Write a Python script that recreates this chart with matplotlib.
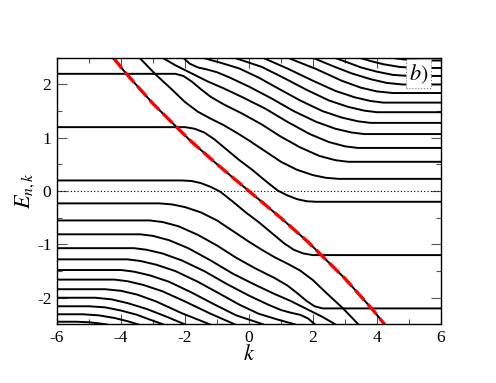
import matplotlib
matplotlib.use("Agg")
import matplotlib.pyplot as plt
from matplotlib.ticker import MultipleLocator

plt.rcParams['font.family'] = 'serif'
plt.rcParams['font.serif'] = ['Liberation Serif', 'DejaVu Serif']
plt.rcParams['mathtext.fontset'] = 'stix'
plt.rcParams['axes.unicode_minus'] = False

# red dashed guide E(k)
red_k = [-4.24, -3.875, -3.0, -2.26, -1.84, -1.0, 0.0, 1.0, 1.84, 2.26, 3.0, 3.875, 4.24]
red_E = [2.5, 2.23, 1.64, 1.2, 0.95, 0.505, 0.0, -0.505, -0.95, -1.2, -1.64, -2.23, -2.5]

# lower half levels (k, E); the upper half is the mirror (k, E) -> (-k, -E)
lvl_A_k = [-6, -2.1, -1.8, -1.5, -1.2, -0.9, -0.5, -0.1, 0.3, 0.8, 1.1, 1.4, 1.7, 2.0, 6]
lvl_A_E = [0.2, 0.2, 0.19, 0.15, 0.08, -0.01, -0.2, -0.4, -0.58, -0.83, -0.98, -1.1, -1.17, -1.2, -1.2]

lvl_1_k = [-6, -2.8, -2.4, -2.0, -1.5, -1.0, -0.5, 0.0, 0.4, 0.8, 1.2, 1.6, 2.0, 2.4, 2.94, 3.42]
lvl_1_E = [-0.23, -0.23, -0.25, -0.3, -0.4, -0.55, -0.75, -0.95, -1.1, -1.24, -1.36, -1.49, -1.67, -1.9, -2.2, -2.5]

lvl_2_k = [-6, -3.1, -2.7, -2.2, -1.6, -1.0, -0.4, 0.2, 0.8, 1.2, 1.5, 1.8, 2.05, 2.3, 6]
lvl_2_E = [-0.55, -0.55, -0.58, -0.66, -0.82, -1.02, -1.25, -1.45, -1.63, -1.77, -1.91, -2.06, -2.16, -2.2, -2.2]

lvl_3_k = [-6, -3.4, -3.0, -2.5, -1.9, -1.2, -0.5, 0.2, 0.8, 1.3, 1.7, 2.0, 2.3, 2.7]
lvl_3_E = [-0.81, -0.81, -0.84, -0.92, -1.07, -1.3, -1.55, -1.76, -1.93, -2.06, -2.18, -2.27, -2.36, -2.5]

lvl_4_k = [-6, -3.6, -3.2, -2.7, -2.1, -1.4, -0.7, 0.0, 0.6, 1.0, 1.3, 1.6, 1.85, 2.06]
lvl_4_E = [-1.07, -1.07, -1.1, -1.17, -1.3, -1.5, -1.74, -1.96, -2.13, -2.23, -2.28, -2.32, -2.39, -2.5]

lvl_5_k = [-6, -3.8, -3.4, -2.9, -2.3, -1.6, -0.9, -0.3, 0.3, 0.9, 1.44]
lvl_5_E = [-1.28, -1.28, -1.31, -1.38, -1.5, -1.7, -1.93, -2.13, -2.3, -2.41, -2.5]

lvl_6_k = [-6, -4.0, -3.6, -3.1, -2.5, -1.8, -1.1, -0.4, 0.45]
lvl_6_E = [-1.48, -1.48, -1.51, -1.58, -1.7, -1.9, -2.12, -2.33, -2.5]

lvl_7_k = [-6, -4.2, -3.8, -3.3, -2.7, -2.0, -1.2, -0.44]
lvl_7_E = [-1.66, -1.66, -1.69, -1.76, -1.88, -2.07, -2.3, -2.5]

lvl_8_k = [-6, -4.5, -4.0, -3.5, -2.9, -2.1, -1.22]
lvl_8_E = [-1.84, -1.84, -1.87, -1.94, -2.07, -2.29, -2.5]

lvl_9_k = [-6, -4.8, -4.3, -3.8, -3.2, -2.6, -2.0]
lvl_9_E = [-2.0, -2.0, -2.03, -2.1, -2.21, -2.35, -2.5]

lvl_10_k = [-6, -5.0, -4.5, -4.0, -3.5, -3.1, -2.68]
lvl_10_E = [-2.16, -2.16, -2.18, -2.24, -2.32, -2.41, -2.5]

lvl_11_k = [-6, -5.2, -4.7, -4.2, -3.8, -3.46]
lvl_11_E = [-2.31, -2.31, -2.33, -2.38, -2.44, -2.5]

lvl_12_k = [-6, -5.4, -5.0, -4.7, -4.45]
lvl_12_E = [-2.45, -2.45, -2.46, -2.48, -2.5]

lower_levels = [
    (lvl_A_k, lvl_A_E), (lvl_1_k, lvl_1_E), (lvl_2_k, lvl_2_E), (lvl_3_k, lvl_3_E),
    (lvl_4_k, lvl_4_E), (lvl_5_k, lvl_5_E), (lvl_6_k, lvl_6_E), (lvl_7_k, lvl_7_E),
    (lvl_8_k, lvl_8_E), (lvl_9_k, lvl_9_E), (lvl_10_k, lvl_10_E), (lvl_11_k, lvl_11_E),
    (lvl_12_k, lvl_12_E),
]

fig = plt.figure(figsize=(4.96, 3.83), dpi=100)
ax = fig.add_axes([0.115, 0.153, 0.774, 0.696])

for ks, es in lower_levels:
    ax.plot(ks, es, color='black', lw=1.4, solid_joinstyle='round')
    ax.plot([-k for k in ks], [-e for e in es], color='black', lw=1.4, solid_joinstyle='round')

ax.plot(red_k, red_E, color='black', lw=1.4)
ax.plot(red_k, red_E, color='red', lw=2.4, dashes=(4.0, 1.6))
ax.axhline(0, color='black', lw=0.8, ls=(0, (1, 2)))

ax.set_xlim(-6, 6)
ax.set_ylim(-2.5, 2.5)
ax.xaxis.set_major_locator(MultipleLocator(2))
ax.xaxis.set_minor_locator(MultipleLocator(1))
ax.yaxis.set_major_locator(MultipleLocator(1))
ax.yaxis.set_minor_locator(MultipleLocator(0.5))
ax.tick_params(which='both', direction='in', top=True, right=True, labelsize=12.5, pad=4)
ax.tick_params(which='major', length=7, width=0.8, color='#555555')
ax.tick_params(which='minor', length=3.5, width=0.8, color='#555555')
for s in ax.spines.values():
    s.set_linewidth(1.0)

ax.set_xlabel('$k$', fontsize=16, labelpad=-1)
ax.set_ylabel('$E_{n,k}$', fontsize=16, labelpad=0)

ax.text(5.3, 2.2, '$b)$', fontsize=16, ha='center', va='center',
        bbox=dict(boxstyle='square,pad=0.12', facecolor='white', edgecolor='gray', ls=':', lw=0.8))

fig.savefig('out.png', dpi=100)
